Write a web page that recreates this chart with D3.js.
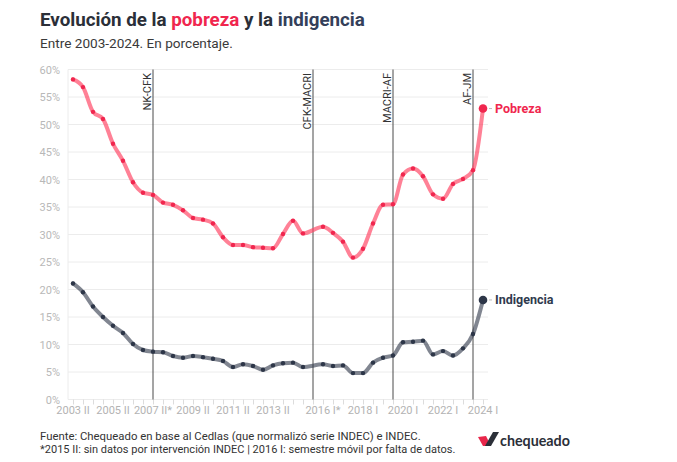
<!DOCTYPE html>
<html><head><meta charset="utf-8">
<script src="https://cdn.jsdelivr.net/npm/d3@7"></script>
<style>body{margin:0;background:#fff}svg{display:block}</style>
</head><body>
<svg id="c" width="677" height="462"></svg>
<script>
const semesters = ["2003 II","2004 I","2004 II","2005 I","2005 II","2006 I","2006 II","2007 I","2007 II","2008 I","2008 II","2009 I","2009 II","2010 I","2010 II","2011 I","2011 II","2012 I","2012 II","2013 I","2013 II","2014 I","2014 II","2015 I","2015 II","2016 I","2016 II","2017 I","2017 II","2018 I","2018 II","2019 I","2019 II","2020 I","2020 II","2021 I","2021 II","2022 I","2022 II","2023 I","2023 II","2024 I"];
const pobreza = [58.2,56.8,52.3,51.0,46.5,43.4,39.5,37.6,37.2,35.8,35.4,34.4,33.0,32.7,32.0,29.5,28.1,28.1,27.7,27.6,27.5,30.1,32.5,30.2,null,31.4,30.3,28.7,25.8,27.4,32.0,35.4,35.5,40.9,42.0,40.6,37.3,36.5,39.2,40.1,41.7,52.9];
const indigencia = [21.1,19.5,16.9,15.0,13.4,12.1,10.1,9.0,8.7,8.6,7.9,7.6,7.9,7.7,7.4,7.0,5.9,6.4,6.1,5.4,6.2,6.6,6.7,5.9,null,6.4,6.1,6.2,4.8,4.8,6.7,7.6,8.0,10.4,10.5,10.7,8.2,8.8,8.0,9.3,11.9,18.1];
const yTicks = [0,5,10,15,20,25,30,35,40,45,50,55,60];
const xTickLabels = [["2003 II","2003 II"],["2005 II","2005 II"],["2007 II","2007 II*"],["2009 II","2009 II"],["2011 II","2011 II"],["2013 II","2013 II"],["2016 I","2016 I*"],["2018 I","2018 I"],["2020 I","2020 I"],["2022 I","2022 I"],["2024 I","2024 I"]];
const events = [["2007 II","NK-CFK"],["2015 II","CFK-MACRI"],["2019 II","MACRI-AF"],["2023 II","AF-JM"]];

const svg = d3.select("#c");
const FONT = "Roboto, 'Liberation Sans', sans-serif";
const x = d3.scalePoint().domain(semesters).range([73, 483]);
const y = d3.scaleLinear().domain([0, 60]).range([399.5, 69.5]);

function fit(sel, w) {
  const L = sel.node().getComputedTextLength();
  const fs = parseFloat(sel.attr("font-size"));
  sel.attr("font-size", fs * w / L);
}

// title
const t = svg.append("text").attr("x", 40).attr("y", 26).attr("font-family", FONT)
  .attr("font-weight", 700).attr("font-size", 18).attr("fill", "#2b2f38");
t.append("tspan").text("Evolución de la ");
t.append("tspan").attr("fill", "#f0264e").text("pobreza");
t.append("tspan").text(" y la ");
t.append("tspan").attr("fill", "#34405a").text("indigencia");
fit(t, 325);
const st = svg.append("text").attr("x", 40).attr("y", 48).attr("font-family", FONT)
  .attr("font-size", 12.5).attr("fill", "#3a3a3a").text("Entre 2003-2024. En porcentaje.");
fit(st, 193);

// grid
svg.append("g").selectAll("line").data(yTicks).join("line")
  .attr("x1", 68).attr("x2", 488).attr("y1", d => y(d)).attr("y2", d => y(d))
  .attr("stroke", "#ececec").attr("stroke-width", 1);
svg.append("line").attr("x1", 68).attr("x2", 68).attr("y1", y(60)).attr("y2", y(0))
  .attr("stroke", "#ececec");

// y axis
const yAxis = d3.axisLeft(y).tickValues(yTicks).tickFormat(d => d + "%").tickSize(0).tickPadding(0);
const gy = svg.append("g").attr("transform", "translate(60,0)").call(yAxis);
gy.select(".domain").remove();
gy.selectAll("text").attr("font-family", FONT).attr("font-size", 11).attr("fill", "#b8b8b8").attr("dy", "0.35em");

// x axis
const xAxis = d3.axisBottom(x).tickSize(5).tickFormat(() => "");
const gx = svg.append("g").attr("transform", `translate(0,${y(0)})`).call(xAxis);
gx.select(".domain").remove();
gx.selectAll("line").attr("stroke", "#dcdcdc");
svg.append("g").selectAll("text").data(xTickLabels).join("text")
  .attr("x", d => x(d[0])).attr("y", 414).attr("text-anchor", "middle")
  .attr("font-family", FONT).attr("font-size", 11).attr("fill", "#b3b3b3").text(d => d[1]);

// event lines
const ev = svg.append("g").selectAll("g").data(events).join("g");
ev.append("line").attr("x1", d => x(d[0])).attr("x2", d => x(d[0]))
  .attr("y1", y(60)).attr("y2", y(0)).attr("stroke", "#4a4a4a").attr("stroke-width", 1);
ev.append("text").attr("transform", d => `translate(${x(d[0]) - 2.5},${73}) rotate(-90)`)
  .attr("text-anchor", "end").attr("font-family", FONT).attr("font-size", 11)
  .attr("fill", "#333").text(d => d[1]);

// series
function series(vals, lineColor, dotColor, label, labelColor) {
  const data = semesters.map((s, i) => ({s, v: vals[i]})).filter(d => d.v != null);
  const line = d3.line().x(d => x(d.s)).y(d => y(d.v)).curve(d3.curveMonotoneX);
  svg.append("path").datum(data).attr("d", line).attr("fill", "none")
    .attr("stroke", lineColor).attr("stroke-width", 4).attr("stroke-linecap", "round")
    .attr("stroke-linejoin", "round");
  svg.append("g").selectAll("circle").data(data.slice(0, -1)).join("circle")
    .attr("cx", d => x(d.s)).attr("cy", d => y(d.v)).attr("r", 2.2).attr("fill", dotColor);
  const last = data[data.length - 1];
  svg.append("circle").attr("cx", x(last.s)).attr("cy", y(last.v)).attr("r", 4.3).attr("fill", dotColor);
  svg.append("line").attr("x1", x(last.s) + 6).attr("x2", x(last.s) + 9)
    .attr("y1", y(last.v)).attr("y2", y(last.v)).attr("stroke", "#bbb").attr("stroke-width", 1);
  svg.append("text").attr("x", x(last.s) + 12).attr("y", y(last.v)).attr("dy", "0.35em")
    .attr("font-family", FONT).attr("font-weight", 700).attr("font-size", 12.5)
    .attr("fill", labelColor).text(label);
}
series(pobreza, "rgba(255,70,100,0.68)", "#f0264e", "Pobreza", "#f0264e");
series(indigencia, "rgba(45,54,72,0.6)", "#2d3648", "Indigencia", "#2f3a4e");

// footer
const f1 = svg.append("text").attr("x", 40).attr("y", 440).attr("font-family", FONT)
  .attr("font-size", 11.5).attr("fill", "#333").text("Fuente: Chequeado en base al Cedlas (que normalizó serie INDEC) e INDEC.");
fit(f1, 381);
const f2 = svg.append("text").attr("x", 40).attr("y", 453).attr("font-family", FONT)
  .attr("font-size", 11.5).attr("fill", "#333").text("*2015 II: sin datos por intervención INDEC | 2016 I: semestre móvil por falta de datos.");
fit(f2, 416);

// logo
svg.append("path").attr("d", "M478,437 L486,436 L491,446 L483,446 Z").attr("fill", "#e8264a");
svg.append("path").attr("d", "M485,446 L493,432 L499,432 L491,446 Z").attr("fill", "#2b2f38");
const lg = svg.append("text").attr("x", 500).attr("y", 446).attr("font-family", "Lato, 'Noto Sans', sans-serif")
  .attr("font-weight", 700).attr("font-size", 16).attr("fill", "#2b2f38").text("chequeado");
fit(lg, 70);
</script>
</body></html>
